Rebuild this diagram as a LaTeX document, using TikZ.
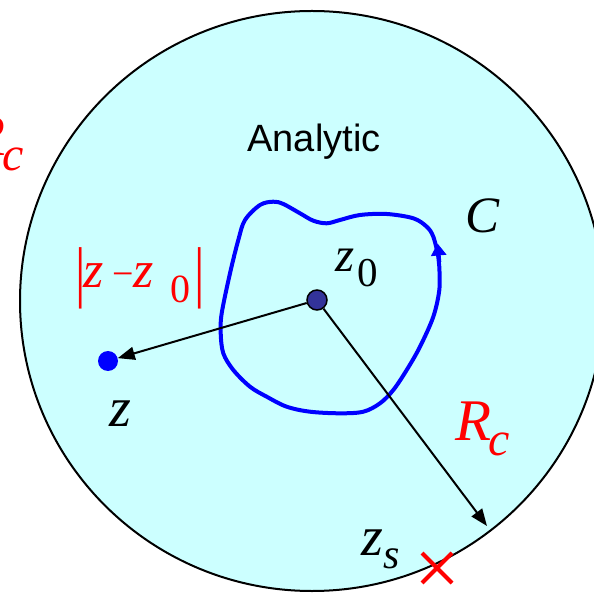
\documentclass[tikz,border=0pt]{standalone}
\usepackage{fontspec}
\setmainfont{Liberation Serif}
\newfontfamily\arialfont{Liberation Sans}
\usetikzlibrary{arrows.meta,shapes.misc}
\definecolor{regionfill}{RGB}{204,255,255}
\definecolor{dotblue}{RGB}{51,51,153}
\newcommand\putat[2]{\rlap{\hspace{#1pt}#2}}
\newcommand\fs[1]{\fontsize{#1}{#1}\selectfont}
\tikzset{
  conn/.style={line width=2pt,-{Triangle[length=17pt,width=13pt]}},
  contour/.style={blue,line width=4pt,line join=round},
  lbl/.style={inner sep=0pt,anchor=base west},
}
\begin{document}
\begin{tikzpicture}[x=1pt,y=-1pt]
\useasboundingbox (0,0) rectangle (594,593);
\clip (0,0) rectangle (594,593);
\draw[fill=regionfill,line width=2pt] (312,301) ellipse [x radius=292,y radius=290];
\node[inner sep=0pt,anchor=base] (analytic) at (314,152) {\arialfont\fs{38}Analytic};
\draw[contour] plot[smooth cycle,tension=0.55] coordinates {
(438.3,256.7) (433.3,236.7) (426.7,226.7) (413.3,218.3) (386.7,214) (360,215)
(340,220) (326.7,223.3) (313.3,220.7) (300,213.3) (283.3,204) (273.3,201.7)
(260,205) (245,220) (238.3,240) (230,273.3) (221.7,313.3) (220.7,333.3)
(223.3,353.3) (233.3,370) (250,386.7) (266.7,396.7) (286.7,406.7) (310,411.7)
(340,413.3) (363.3,411.7) (380,403.3) (393.3,390) (406.7,370) (420,346.7)
(433.3,316.7) (439.3,290) (439.3,266.7)};
\coordinate (ctail) at (439.3,262);
\coordinate (ctip) at (437.6,243.5);
\draw[contour,-{Triangle[length=12pt,width=15pt]}] (ctail) -- (ctip);
\node[circle,fill=dotblue,draw=black,line width=1.5pt,minimum size=20pt,inner sep=0pt] (z0dot) at (317,300) {};
\node[circle,fill=blue,minimum size=20pt,inner sep=0pt] (zdot) at (108,361) {};
\coordinate (rtip) at (487,526);
\draw[conn] (z0dot) -- (zdot);
\draw[conn] (z0dot) -- (rtip);
\node[cross out,draw=red,line width=4pt,minimum size=26pt,inner sep=0pt] (zscross) at (437,568) {};
\node[inner sep=0pt,anchor=base] (clab) at (483,233) {\fs{51}\textit{C}};
\node[inner sep=0pt,anchor=base] (zlab) at (120,426) {\fs{56}\textit{z}};
\node[lbl] (z0lab) at (335,272) {\fs{49}\putat{0}{\textit{z}}\putat{22}{\raisebox{-15pt}{\fs{41}0}}\hspace{44pt}};
\node[lbl] (zslab) at (361,555) {\fs{56}\putat{0}{\textit{z}}\putat{22}{\raisebox{-13pt}{\fs{42}\textit{s}}}\hspace{40pt}};
\node[lbl,text=red] (rclab) at (455,440) {\fs{59}\putat{0}{\textit{R}}\putat{33}{\raisebox{-15pt}{\fs{48}\textit{c}}}\hspace{52pt}};
\node[lbl,text=red] (rcleft) at (-31,156) {\fs{59}\putat{0}{\textit{R}}\putat{33}{\raisebox{-15pt}{\fs{48}\textit{c}}}\hspace{52pt}};
\node[lbl,text=red] (distlab) at (80,288) {\fs{52}%
\putat{-5}{\raisebox{-7pt}{\scalebox{1}[1.3]{|}}}%
\putat{3}{\textit{z}}%
\putat{32}{\raisebox{1pt}{\fs{38}−}}%
\putat{53}{\textit{z}}%
\putat{90}{\raisebox{-15pt}{\fs{40}0}}%
\putat{114}{\raisebox{-7pt}{\scalebox{1}[1.3]{|}}}%
\hspace{122pt}};
\end{tikzpicture}
\end{document}
